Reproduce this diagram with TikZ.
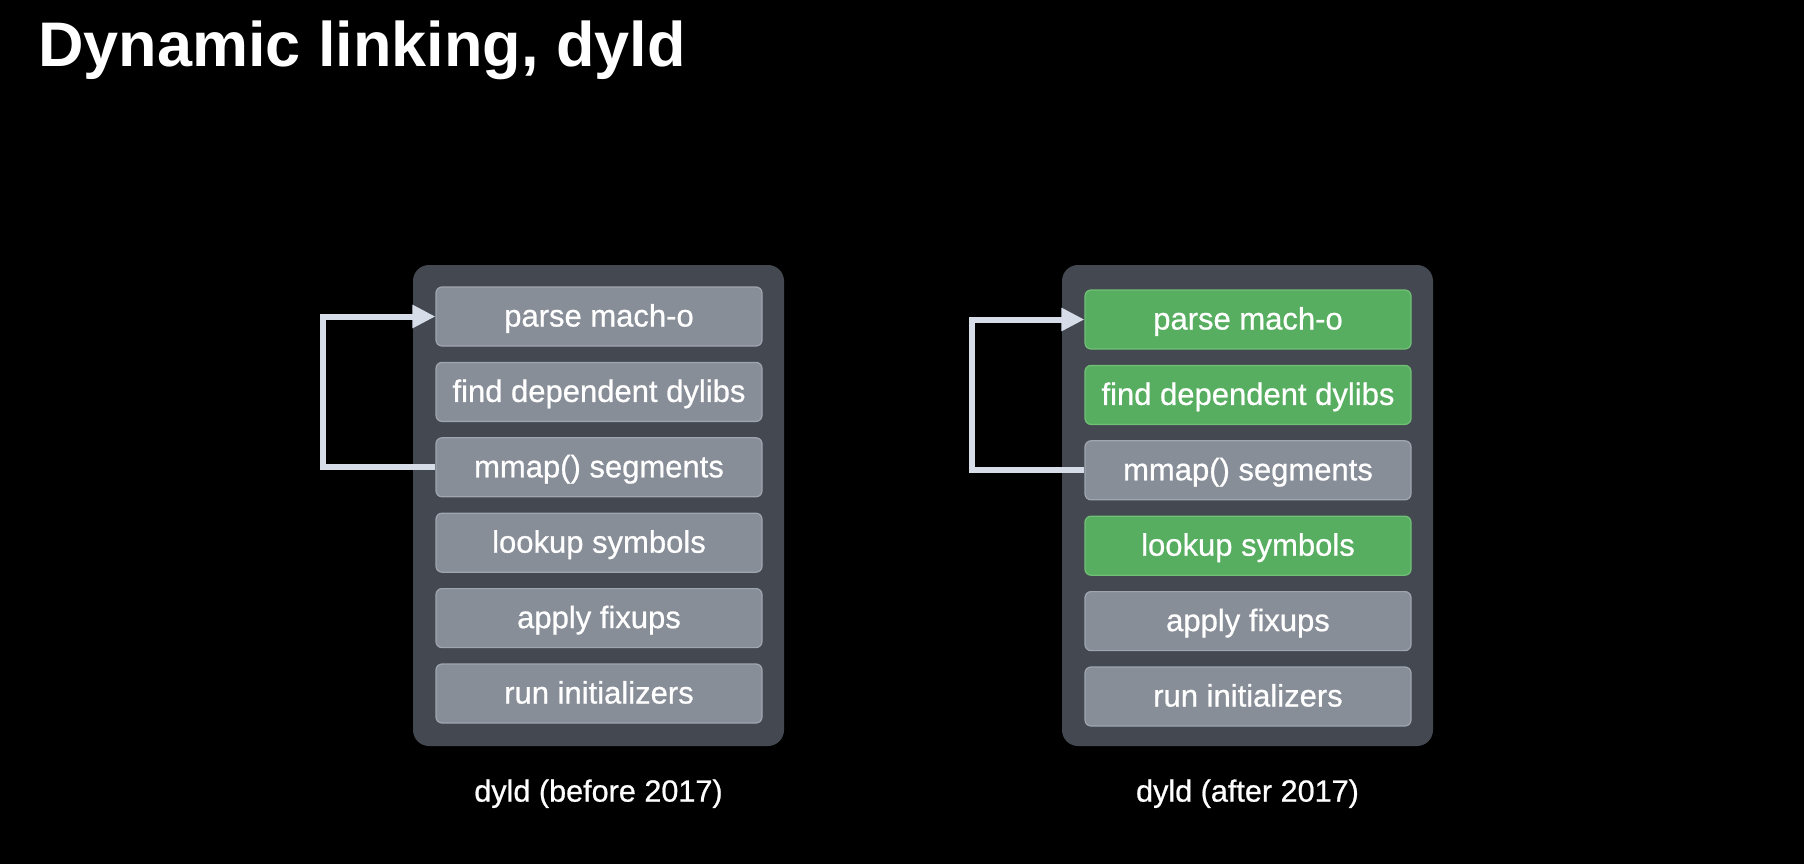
\documentclass[tikz,border=0pt]{standalone}
\usepackage{fontspec}
\setmainfont{Liberation Sans}
\newfontfamily\stepfont[FakeBold=0.7]{Liberation Sans}
\usetikzlibrary{arrows.meta, positioning}

\definecolor{panelgray}{RGB}{68,72,80}
\definecolor{boxgray}{RGB}{136,142,152}
\definecolor{boxedge}{RGB}{160,166,176}
\definecolor{boxgreen}{RGB}{88,174,96}
\definecolor{greenedge}{RGB}{112,192,118}
\definecolor{arrowgray}{RGB}{214,220,232}

\begin{document}
\begin{tikzpicture}[
            x = 0.5pt, y = 0.5pt, % one unit per pixel
            > = {Triangle[length=11.5pt, width=11pt]}, % arrow head style
            node distance = 7.6pt, % gap between steps
            semithick % line style
        ]

        \tikzstyle{stepbox}=[
            draw = boxedge,
            fill = boxgray,
            line width = 0.6pt,
            rounded corners = 3pt,
            minimum width = 163pt,
            minimum height = 29.5pt,
            text height = 10pt,
            text depth = 0pt,
            text = white,
            font = \stepfont\fontsize{15.5}{18}\selectfont
        ]
        \tikzstyle{fastbox}=[stepbox, draw = greenedge, fill = boxgreen]
        \tikzstyle{panel}=[
            fill = panelgray,
            rounded corners = 8pt,
            minimum width = 185.5pt,
            minimum height = 240.5pt
        ]
        \tikzstyle{caption}=[text = white, anchor = base, font = \stepfont\fontsize{15.3}{18}\selectfont]
        \tikzstyle{backarrow}=[->, draw = arrowgray, line width = 3pt]

        \fill[black] (0,0) rectangle (1804,864);
        \useasboundingbox (0,0) rectangle (1804,864);

        \node[text = white, anchor = base west, font = \fontsize{31.5}{36}\selectfont\bfseries] (title) at (31,797) {Dynamic linking, dyld};

        % before 2017
        \node[panel] (left) at (598.5,358.5) {};
        \node[stepbox] (a1) at (599,547.5) {parse mach-o};
        \node[stepbox] (a2) [below=of a1] {find dependent dylibs};
        \node[stepbox] (a3) [below=of a2] {mmap() segments};
        \node[stepbox] (a4) [below=of a3] {lookup symbols};
        \node[stepbox] (a5) [below=of a4] {apply fixups};
        \node[stepbox] (a6) [below=of a5] {run initializers};
        \node[caption] (lcap) at ([yshift=-27.5pt]left.south) {dyld (before 2017)};

        \draw[backarrow] (a3.west) -- ++(-112,0) |- (a1.west);

        % after 2017
        \node[panel] (right) at (1247.5,358.5) {};
        \node[fastbox] (b1) at (1248,544.5) {parse mach-o};
        \node[fastbox] (b2) [below=of b1] {find dependent dylibs};
        \node[stepbox] (b3) [below=of b2] {mmap() segments};
        \node[fastbox] (b4) [below=of b3] {lookup symbols};
        \node[stepbox] (b5) [below=of b4] {apply fixups};
        \node[stepbox] (b6) [below=of b5] {run initializers};
        \node[caption] (rcap) at ([yshift=-27.5pt]right.south) {dyld (after 2017)};

        \draw[backarrow] (b3.west) -- ++(-112,0) |- (b1.west);

  \end{tikzpicture}
\end{document}
